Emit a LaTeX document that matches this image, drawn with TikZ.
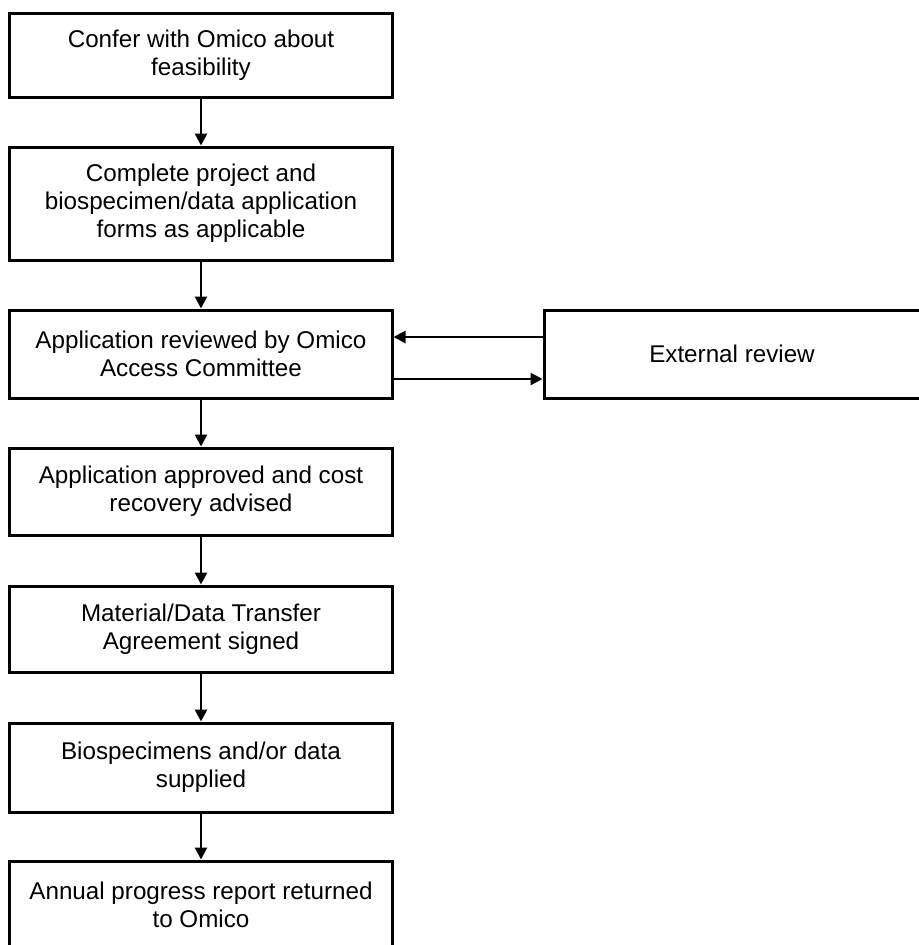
\documentclass[tikz,border=0pt]{standalone}
\usepackage{fontspec}
\setmainfont{Liberation Sans}
\usetikzlibrary{arrows.meta}

\begin{document}
\begin{tikzpicture}[x=1bp,y=-1bp,
  stepbox/.style={draw,line width=3bp,align=center,inner sep=0pt,
    minimum width=382bp,font=\fontsize{24.3}{28}\selectfont},
  arr/.style={line width=2.6bp,-{Triangle[length=12bp,width=12bp]}}]
\useasboundingbox (0,0) rectangle (919,945);
\clip (0,0) rectangle (919,945);
\node[stepbox,minimum height=84bp] (confer) at (201,55) {Confer with Omico about\\feasibility};
\node[stepbox,minimum height=113bp] (forms) at (201,203.5) {Complete project and\\biospecimen/data application\\forms as applicable};
\node[stepbox,minimum height=88bp] (review) at (201,354) {Application reviewed by Omico\\Access Committee};
\node[stepbox,minimum height=88bp,minimum width=376bp] (external) at (732,354) {External review};
\node[stepbox,minimum height=87bp] (approved) at (201,491.5) {Application approved and cost\\recovery advised};
\node[stepbox,minimum height=86bp] (mta) at (201,629) {Material/Data Transfer\\Agreement signed};
\node[stepbox,minimum height=89bp] (supplied) at (201,767.5) {Biospecimens and/or data\\supplied};
\node[stepbox,minimum height=88bp] (annual) at (201,905) {Annual progress report returned\\to Omico};
\draw[arr] (confer) -- (forms);
\draw[arr] (forms) -- (review);
\draw[arr] (review) -- (approved);
\draw[arr] (approved) -- (mta);
\draw[arr] (mta) -- (supplied);
\draw[arr] (supplied) -- (annual);
\draw[arr] ([yshift=17bp]external.west) -- ([yshift=17bp]review.east);
\draw[arr] ([yshift=-25bp]review.east) -- ([yshift=-25bp]external.west);
\end{tikzpicture}
\end{document}
